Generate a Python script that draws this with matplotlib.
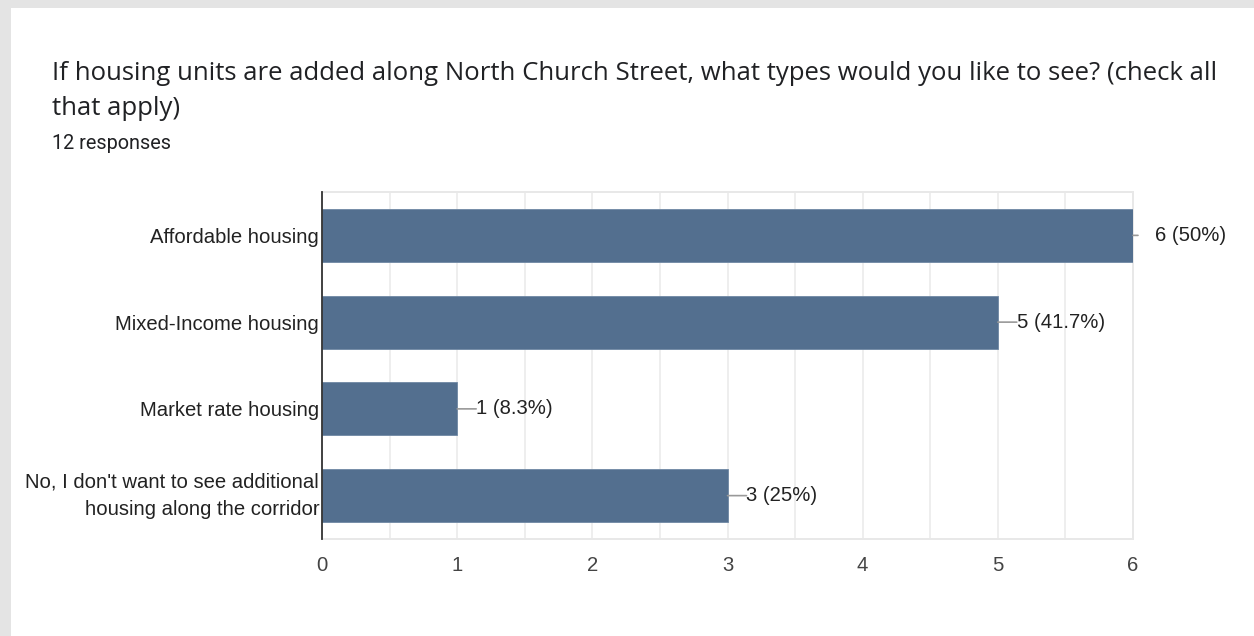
import matplotlib
matplotlib.use("Agg")
import matplotlib.pyplot as plt
from matplotlib.patches import Rectangle
from matplotlib.ticker import MultipleLocator

categories = [
    "Affordable housing",
    "Mixed-Income housing",
    "Market rate housing",
    "No, I don't want to see additional\nhousing along the corridor",
]
counts = [6, 5, 1, 3]
percent_labels = ["50%", "41.7%", "8.3%", "25%"]
x_ticks = [0, 1, 2, 3, 4, 5, 6]

title = ("If housing units are added along North Church Street, what types would you like to see? (check all\n"
         "that apply)")
subtitle = "12 responses"

W, H = 1254, 636
fig = plt.figure(figsize=(W / 100, H / 100), dpi=100)
fig.patch.set_facecolor("white")

# gray frame (top and left strips)
fig.add_artist(Rectangle((0, 1 - 8 / H), 1, 8 / H, transform=fig.transFigure,
                         facecolor="#e4e4e4", edgecolor="none", zorder=0))
fig.add_artist(Rectangle((0, 0), 11 / W, 1, transform=fig.transFigure,
                         facecolor="#e4e4e4", edgecolor="none", zorder=0))

fig.text(52 / W, 1 - 115 / H, title, fontsize=18.5, family=["Open Sans", "DejaVu Sans"],
         color="#202124", ha="left", va="baseline", linespacing=1.5)
fig.text(52 / W, 1 - 149 / H, subtitle, fontsize=14.3, family=["Roboto", "DejaVu Sans"],
         color="#202124", ha="left", va="baseline")

left, right, top, bottom = 322, 1133, 192, 539
ax = fig.add_axes([left / W, 1 - bottom / H, (right - left) / W, (bottom - top) / H])

ypos = list(range(len(categories)))
ax.barh(ypos, counts, height=0.61, color="#536f8f", edgecolor="#6f88a4",
        linewidth=0.6, zorder=3)
ax.set_xlim(0, 6)
ax.set_ylim(len(categories) - 0.5, -0.5)

ax.xaxis.set_major_locator(MultipleLocator(1))
ax.xaxis.set_minor_locator(MultipleLocator(0.5))
ax.set_xticks(x_ticks)
ax.grid(axis="x", which="both", color="#ebebeb", linewidth=1.2, zorder=0)
ax.tick_params(axis="x", which="both", length=0, pad=12, labelsize=14.6, labelcolor="#444444")
ax.tick_params(axis="y", length=0, pad=2, labelsize=14.6, labelcolor="#222222")
ax.set_yticks(ypos)
ax.set_yticklabels(categories, family=["Liberation Sans", "DejaVu Sans"], linespacing=1.6)
for lbl in ax.get_yticklabels():
    if "\n" in lbl.get_text():
        lbl.set_verticalalignment("center")
for lbl in ax.get_xticklabels():
    lbl.set_family(["Liberation Sans", "DejaVu Sans"])

for s in ["top", "bottom", "right"]:
    ax.spines[s].set_color("#e8e8e8")
    ax.spines[s].set_linewidth(1.4)
ax.spines["left"].set_color("#333333")
ax.spines["left"].set_linewidth(1.3)
ax.spines["left"].set_zorder(5)

px = 72 / 100  # points per pixel
xmax = ax.get_xlim()[1]
for y, c, p in zip(ypos, counts, percent_labels):
    if c >= xmax:
        stem, txt_off = 5, 22
    else:
        stem, txt_off = 19, 19
    ax.annotate("", xy=(c, y), xytext=(stem * px, 0), textcoords="offset points",
                arrowprops=dict(arrowstyle="-", color="#999999", lw=1.2,
                                shrinkA=0, shrinkB=0), annotation_clip=False)
    ax.annotate(f"{c} ({p})", xy=(c, y), xytext=(txt_off * px, 0),
                textcoords="offset points", ha="left", va="center",
                fontsize=14.6, color="#222222",
                family=["Liberation Sans", "DejaVu Sans"], annotation_clip=False)

fig.savefig("out.png", dpi=100, facecolor="white")
